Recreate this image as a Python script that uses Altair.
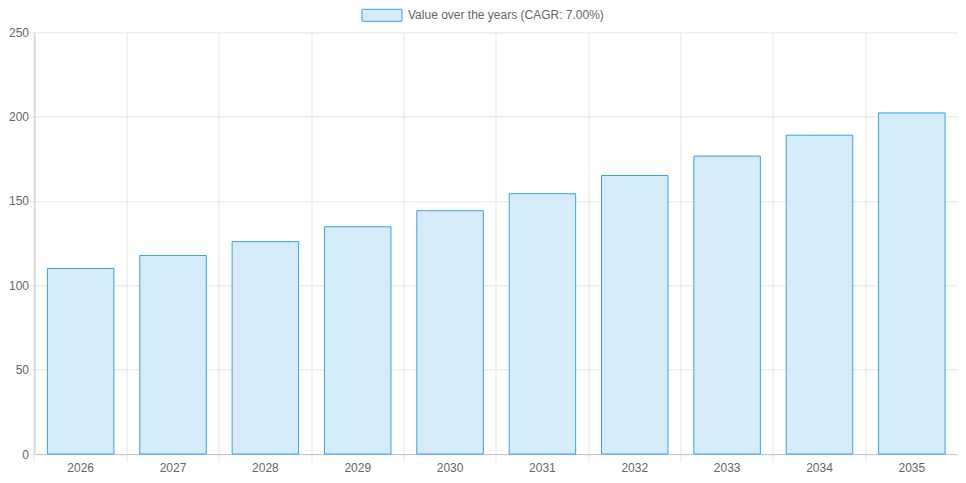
import altair as alt
import pandas as pd

years = ["2026", "2027", "2028", "2029", "2030", "2031", "2032", "2033", "2034", "2035"]
values = [110.0, 117.7, 125.9, 134.7, 144.2, 154.3, 165.1, 176.6, 189.0, 202.2]
series_label = "Value over the years (CAGR: 7.00%)"
y_ticks = [0, 50, 100, 150, 200, 250]

df = pd.DataFrame({"year": years, "value": values, "series": [series_label] * len(years)})

W = 923.5
H = 421.7
FONT = "Liberation Sans"
P_IN = 0.28
P_OUT = 0.14
STEP = W / 10
BW = STEP * (1 - P_IN)
BAND_POS = -(STEP * P_OUT) / BW

chart = alt.Chart(df).mark_bar(
    stroke="#36A2EB", strokeWidth=1
).encode(
    x=alt.X("year:N", sort=years, title=None,
            scale=alt.Scale(paddingInner=P_IN, paddingOuter=P_OUT),
            axis=alt.Axis(bandPosition=BAND_POS, labelAngle=0,
                          labelAlign="center",
                          grid=True, gridColor="#e5e5e5", tickColor="#e5e5e5",
                          tickSize=8, domainColor="#c8c8c8", labelPadding=0,
                          labelColor="#666666", labelFontSize=12, labelFont=FONT)),
    y=alt.Y("value:Q", title=None,
            scale=alt.Scale(domain=[0, 250], nice=False),
            axis=alt.Axis(values=y_ticks, grid=True, gridColor="#e5e5e5",
                          tickColor="#e5e5e5", tickSize=5, domainColor="#c8c8c8",
                          labelPadding=1, labelColor="#666666", labelFontSize=12,
                          labelFont=FONT)),
    color=alt.Color("series:N", scale=alt.Scale(domain=[series_label], range=["#D7ECFB"]),
                    legend=alt.Legend(title=None, orient="none", legendX=341.5, legendY=-23,
                                      symbolType="M-4,-1.2H4V1.2H-4Z", symbolSize=100,
                                      symbolStrokeColor="#36A2EB", symbolStrokeWidth=1,
                                      symbolFillColor="#D7ECFB", labelLimit=400,
                                      labelOffset=20, labelFontSize=12, labelColor="#666666",
                                      labelFont=FONT, padding=0)),
).properties(
    width=W, height=H,
    autosize=alt.AutoSizeParams(type="none"),
    padding={"left": 26.5, "top": 24.3, "right": 0, "bottom": 21},
).configure_view(stroke=None)

chart.save("out.html", embed_options={"renderer": "svg", "actions": False})
